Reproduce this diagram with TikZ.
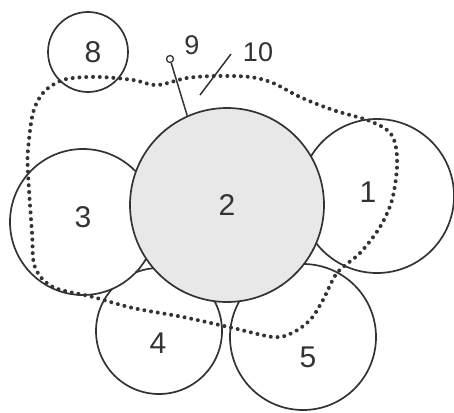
\documentclass[tikz,border=0pt]{standalone}
\usepackage{fontspec}
\setmainfont{Liberation Sans}
\usetikzlibrary{decorations.markings}
\begin{document}
\begin{tikzpicture}[x=1pt,y=-1pt,
  part/.style={circle,draw=black!80,line width=1.7pt,fill=white,inner sep=0pt},
  hub/.style={part,fill=black!9},
  num/.style={font=\fontsize{30}{34}\selectfont,text=black!80,inner sep=0pt},
  small/.style={font=\fontsize{27}{30}\selectfont,text=black!80,inner sep=0pt},
  dotline/.style={postaction={decorate},decoration={markings,
     mark=between positions 0 and 1 step 6.8pt with {\fill[black!80] (0,0) circle (2pt);}}},
  rod/.style={line width=1.5pt,draw=black!80}]
\useasboundingbox (0,0) rectangle (454,412);
\node[part,minimum size=126pt] (c4) at (159,331) {};
\node[part,minimum size=146pt] (c5) at (303,337) {};
\node[part,minimum size=146pt] (c3) at (83,222) {};
\node[part,minimum size=154pt] (c1) at (377,196) {};
\node[hub,minimum size=194pt] (c2) at (227,205) {};
\node[part,minimum size=80pt] (c8) at (88,52) {};
\node[num] (t1) at (368,192) {1};
\node[num] (t2) at (227,205) {2};
\node[num] (t3) at (83,217) {3};
\node[num] (t4) at (158,343) {4};
\node[num] (t5) at (308,357) {5};
\node[num] (t8) at (93,52) {8};
\node[small] (t9) at (192,45) {9};
\node[small] (t10) at (258,52) {10};
\path[dotline] plot[smooth cycle,tension=0.55] coordinates {
 (58,82) (43,93) (33,113) (28,150) (28,173) (32,233) (35,267) (53,287)
 (93,297) (133,308) (183,317) (233,328) (273,337) (292,333) (310,320)
 (323,300) (337,273) (360,253) (380,227) (392,200) (397,167) (395,143)
 (387,130) (367,120) (333,110) (300,97) (273,83) (250,77) (217,76)
 (187,78) (157,85) (133,80) (100,77) (73,78)};
\node[circle,draw=black!80,line width=1.3pt,fill=white,minimum size=7pt,inner sep=0pt] (p9) at (170,59) {};
\draw[rod] (p9) -- (c2.114);
\coordinate (a10) at (200,95);
\coordinate (b10) at (231,54);
\draw[rod] (a10) -- (b10);
\end{tikzpicture}
\end{document}
